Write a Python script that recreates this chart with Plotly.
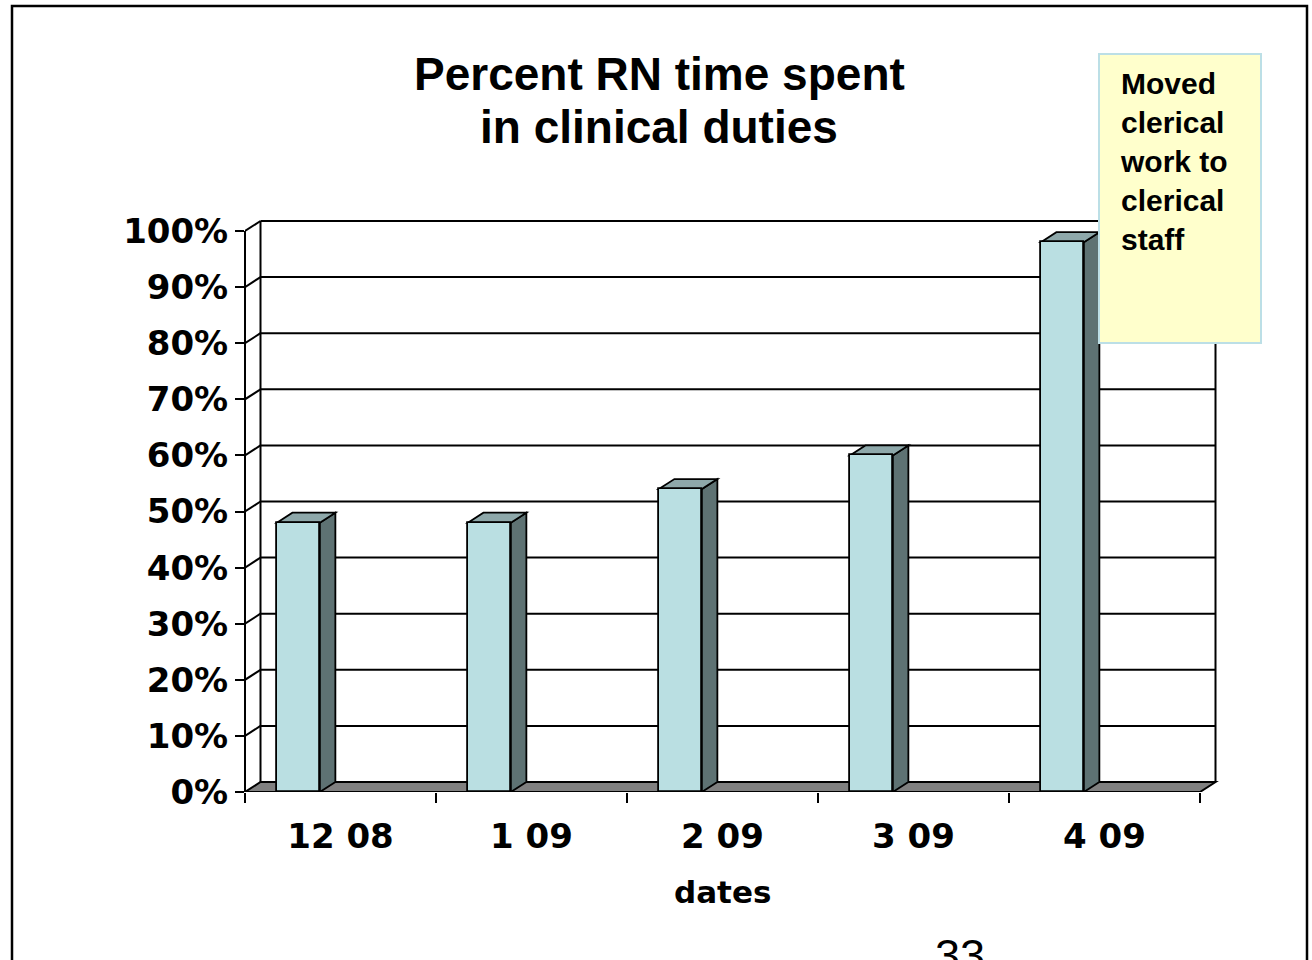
import plotly.graph_objects as go

# ---- data -------------------------------------------------------------
categories = ["12 08", "1 09", "2 09", "3 09", "4 09"]
clinical_pct = [48, 48, 54, 60, 98]
y_ticks = [0, 10, 20, 30, 40, 50, 60, 70, 80, 90, 100]
y_tick_labels = [f"{v}%" for v in y_ticks]
note_lines = ["Moved", "clerical", "work to", "clerical", "staff"]

# ---- geometry ---------------------------------------------------------
W, H = 1312, 960
PL, PR, PT, PB = 245, 1230, 215, 792      # plot box in pixels
CAT_PX = 191.0                            # pixels per category slot
PCT_PX = 5.61                             # pixels per percentage point
X_MAX = (PR - PL) / CAT_PX
Y_MAX = (PB - PT) / PCT_PX
DX = 15.5 / CAT_PX                        # depth of the 3-D box, x units
DY = 10.0 / PCT_PX                        # depth of the 3-D box, y units
N = len(categories)
BAR_OFF = -0.333
BAR_W = 0.225


def px(x):
    """page pixel column -> paper x"""
    return (x - PL) / (PR - PL)


def py(y):
    """page pixel row -> paper y"""
    return (PB - y) / (PB - PT)


FRONT = "#BADFE2"
SIDE = "#5E7273"
TOP = "#8EA8AA"
FLOOR = "#808080"
INK = "black"

TICK_FONT = dict(family="DejaVu Sans", size=34, color=INK, weight="bold")

fig = go.Figure()

centers = [i + 0.5 for i in range(N)]
fig.add_trace(go.Bar(
    x=centers, y=clinical_pct, width=BAR_W, offset=BAR_OFF,
    marker=dict(color=FRONT, line=dict(color=INK, width=1.8)),
    hoverinfo="skip",
))

shapes = []
# back wall grid and the left side-wall edges
for v in y_ticks[1:]:
    shapes.append(dict(type="line", xref="x", yref="y", layer="below",
                       x0=DX, x1=N + DX, y0=v + DY, y1=v + DY,
                       line=dict(color=INK, width=2)))
    shapes.append(dict(type="line", xref="x", yref="y", layer="below",
                       x0=0, x1=DX, y0=v, y1=v + DY,
                       line=dict(color=INK, width=2)))
for xv in (DX, N + DX):
    shapes.append(dict(type="line", xref="x", yref="y", layer="below",
                       x0=xv, x1=xv, y0=DY, y1=y_ticks[-1] + DY,
                       line=dict(color=INK, width=2)))
# floor
shapes.append(dict(type="path", xref="x", yref="y", layer="below",
                   path=f"M0,0 L{N},0 L{N + DX},{DY} L{DX},{DY} Z",
                   fillcolor=FLOOR, line=dict(color=INK, width=2)))
# bar side and top faces
for i, v in enumerate(clinical_pct):
    x0 = centers[i] + BAR_OFF
    x1 = x0 + BAR_W
    shapes.append(dict(type="path", xref="x", yref="y", layer="below",
                       path=f"M{x1},0 L{x1 + DX},{DY} L{x1 + DX},{v + DY} L{x1},{v} Z",
                       fillcolor=SIDE, line=dict(color=INK, width=1.8)))
    shapes.append(dict(type="path", xref="x", yref="y", layer="below",
                       path=f"M{x0},{v} L{x0 + DX},{v + DY} L{x1 + DX},{v + DY} L{x1},{v} Z",
                       fillcolor=TOP, line=dict(color=INK, width=1.8)))
# front value axis line
shapes.append(dict(type="line", xref="paper", yref="y", layer="above",
                   x0=0, x1=0, y0=0, y1=y_ticks[-1],
                   line=dict(color=INK, width=2)))
# note box
shapes.append(dict(type="rect", xref="paper", yref="paper", layer="above",
                   x0=px(1099), x1=px(1261), y0=py(343), y1=py(54),
                   fillcolor="#FFFFCC", line=dict(color="#BCDFE6", width=2)))
# slide frame
shapes.append(dict(type="rect", xref="paper", yref="paper", layer="above",
                   x0=px(12), x1=px(1307), y0=py(990), y1=py(6),
                   fillcolor="rgba(0,0,0,0)", line=dict(color=INK, width=2.5)))

annotations = [
    dict(text="Percent RN time spent", xref="paper", yref="paper",
         x=px(659), y=py(74), xanchor="center", yanchor="middle", showarrow=False,
         font=dict(family="Liberation Sans", size=46, color=INK, weight="bold")),
    dict(text="in clinical duties", xref="paper", yref="paper",
         x=px(659), y=py(127), xanchor="center", yanchor="middle", showarrow=False,
         font=dict(family="Liberation Sans", size=46, color=INK, weight="bold")),
    dict(text="<br>".join(note_lines), xref="paper", yref="paper",
         x=px(1118), y=py(65), xanchor="left", yanchor="top", align="left",
         showarrow=False,
         font=dict(family="Liberation Sans", size=30, color=INK, weight="bold")),
    dict(text="dates", xref="x", yref="paper",
         x=N / 2, y=py(892), xanchor="center", yanchor="middle", showarrow=False,
         font=dict(family="DejaVu Sans", size=31, color=INK, weight="bold")),
    dict(text="33", xref="paper", yref="paper",
         x=px(933), y=py(928), xanchor="left", yanchor="top", showarrow=False,
         font=dict(family="Liberation Sans", size=45, color=INK)),
]

fig.update_layout(
    width=W, height=H, autosize=False,
    margin=dict(l=PL, r=W - PR, t=PT, b=H - PB, pad=0),
    paper_bgcolor="white", plot_bgcolor="white",
    showlegend=False, bargap=0,
    shapes=shapes, annotations=annotations,
    xaxis=dict(range=[0, X_MAX], showgrid=False, zeroline=False, showline=False,
               tickmode="array", tickvals=centers, ticktext=categories,
               ticks="", tickfont=TICK_FONT, ticklabelstandoff=21,
               minor=dict(tickmode="array", tickvals=list(range(N + 1)),
                          ticks="outside", ticklen=10, tickwidth=2, tickcolor=INK,
                          showgrid=False)),
    yaxis=dict(range=[0, Y_MAX], showgrid=False, zeroline=False, showline=False,
               tickmode="array", tickvals=y_ticks, ticktext=y_tick_labels,
               ticks="outside", ticklen=9, tickwidth=2, tickcolor=INK,
               tickfont=TICK_FONT),
)

fig.write_html("out.html")
